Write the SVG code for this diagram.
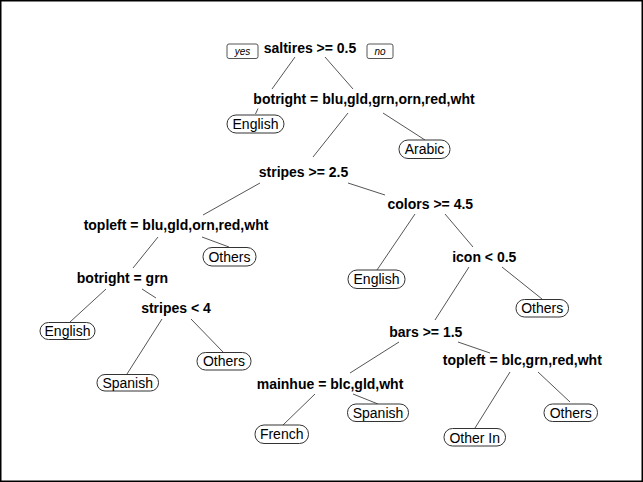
<svg xmlns="http://www.w3.org/2000/svg" width="643" height="482" viewBox="0 0 643 482">
<style>
.split{font-family:"Liberation Sans",Arial,sans-serif;font-weight:bold;font-size:14px;text-anchor:middle;fill:#000}
.leaf rect{fill:#fff;stroke:#333;stroke-width:1}
.leaf text{font-family:"Liberation Sans",Arial,sans-serif;font-size:14px;text-anchor:middle;fill:#000}
.yn rect{fill:#fff;stroke:#555;stroke-width:1}
.yn text{font-family:"Liberation Sans",Arial,sans-serif;font-style:italic;font-size:10px;text-anchor:middle;fill:#000}
#connectors line{stroke:#555;stroke-width:1}
</style>
<rect x="0.75" y="0.75" width="641.5" height="480.5" fill="#fff" stroke="#000" stroke-width="1.5"/>
<g id="connectors">
<line x1="295" y1="57" x2="272" y2="89"/>
<line x1="258" y1="108.5" x2="255.5" y2="114"/>
<line x1="325" y1="57" x2="353" y2="89"/>
<line x1="348" y1="113" x2="313" y2="157"/>
<line x1="383" y1="113" x2="425" y2="140"/>
<line x1="260" y1="183" x2="203" y2="215"/>
<line x1="348" y1="183" x2="385" y2="195"/>
<line x1="202" y1="237" x2="229" y2="247"/>
<line x1="158" y1="237" x2="133" y2="268"/>
<line x1="106" y1="289" x2="70" y2="322"/>
<line x1="142" y1="289" x2="156" y2="298"/>
<line x1="162" y1="319" x2="127" y2="374"/>
<line x1="191" y1="319" x2="223" y2="352"/>
<line x1="415" y1="214" x2="377" y2="270"/>
<line x1="445" y1="214" x2="473" y2="247"/>
<line x1="469" y1="267" x2="435" y2="320"/>
<line x1="502" y1="267" x2="542" y2="299"/>
<line x1="399" y1="342" x2="350" y2="373"/>
<line x1="458" y1="342" x2="490" y2="353"/>
<line x1="315" y1="394" x2="283" y2="425"/>
<line x1="353" y1="394" x2="378" y2="404"/>
<line x1="510" y1="372" x2="475" y2="428"/>
<line x1="538" y1="372" x2="570" y2="402"/>
</g>
<g id="yes" class="yn"><rect x="227" y="44" width="31" height="14.5" rx="2"/><text x="242.5" y="55">yes</text></g>
<g id="no" class="yn"><rect x="367" y="44" width="26" height="14.5" rx="2"/><text x="380" y="55">no</text></g>
<g id="n1"><text class="split" x="310" y="53">saltires &gt;= 0.5</text></g>
<g id="n2" class="leaf"><rect x="227" y="115" width="57" height="18" rx="9"/><text x="255.5" y="129">English</text></g>
<g id="n3"><text class="split" x="364" y="103.5">botright = blu,gld,grn,orn,red,wht</text></g>
<g id="n4" class="leaf"><rect x="399" y="140" width="51" height="18.5" rx="9"/><text x="424.5" y="154.3">Arabic</text></g>
<g id="n5"><text class="split" x="303.5" y="177">stripes &gt;= 2.5</text></g>
<g id="n6"><text class="split" x="176" y="230">topleft = blu,gld,orn,red,wht</text></g>
<g id="n7" class="leaf"><rect x="203" y="247.5" width="53" height="18.5" rx="9"/><text x="229.5" y="261.8">Others</text></g>
<g id="n8"><text class="split" x="122.5" y="282.5">botright = grn</text></g>
<g id="n9" class="leaf"><rect x="40" y="322.5" width="55" height="17" rx="8.5"/><text x="67.5" y="336">English</text></g>
<g id="n10"><text class="split" x="176" y="312.5">stripes &lt; 4</text></g>
<g id="n11" class="leaf"><rect x="97" y="374.5" width="61.5" height="16.5" rx="8"/><text x="127.7" y="387.8">Spanish</text></g>
<g id="n12" class="leaf"><rect x="197" y="352.5" width="54" height="17.5" rx="8.5"/><text x="224" y="366.3">Others</text></g>
<g id="n13"><text class="split" x="430.3" y="209">colors &gt;= 4.5</text></g>
<g id="n14" class="leaf"><rect x="348" y="270" width="57" height="18.5" rx="9"/><text x="376.5" y="284.3">English</text></g>
<g id="n15"><text class="split" x="484.3" y="261.5">icon &lt; 0.5</text></g>
<g id="n16" class="leaf"><rect x="516" y="299.5" width="52.5" height="17.5" rx="8.5"/><text x="542.2" y="313.3">Others</text></g>
<g id="n17"><text class="split" x="425.8" y="337">bars &gt;= 1.5</text></g>
<g id="n18"><text class="split" x="330" y="388.5">mainhue = blc,gld,wht</text></g>
<g id="n19" class="leaf"><rect x="255" y="425" width="53.5" height="18.5" rx="9"/><text x="281.7" y="439.3">French</text></g>
<g id="n20" class="leaf"><rect x="347.5" y="404" width="61" height="17.5" rx="8.5"/><text x="378" y="417.8">Spanish</text></g>
<g id="n21"><text class="split" x="522.3" y="364.5">topleft = blc,grn,red,wht</text></g>
<g id="n22" class="leaf"><rect x="444" y="428.5" width="61.5" height="17.5" rx="8.5"/><text x="474.7" y="442.5">Other In</text></g>
<g id="n23" class="leaf"><rect x="544" y="404" width="53.5" height="17.5" rx="8.5"/><text x="570.7" y="417.8">Others</text></g>
</svg>
